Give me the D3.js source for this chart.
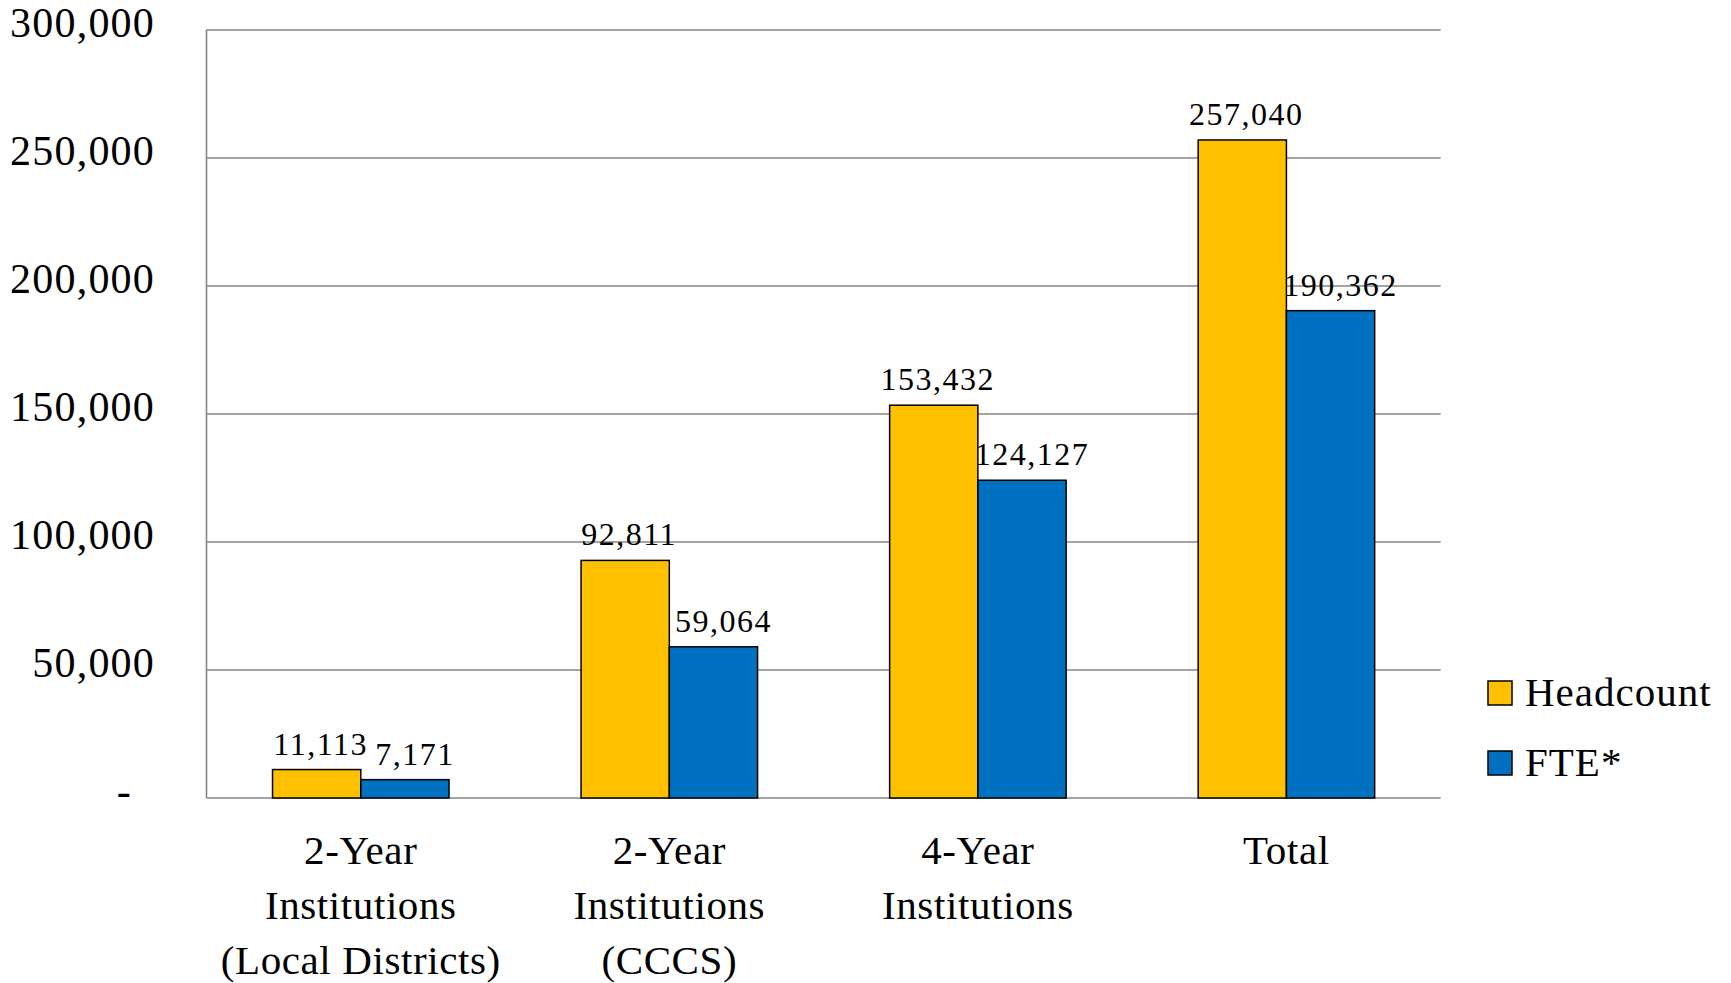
<!DOCTYPE html>
<meta charset="utf-8">
<head>
  <script src="https://cdn.jsdelivr.net/npm/d3@7"></script>
  <style>
    body { margin: 0; background: #fff; }
    text { font-family: "Liberation Serif", "Times New Roman", serif; fill: #000; }
  </style>
</head>
<body>

<script type="text/javascript">

// datos
var categorias = [
  ["2-Year", "Institutions", "(Local Districts)"],
  ["2-Year", "Institutions", "(CCCS)"],
  ["4-Year", "Institutions"],
  ["Total"]
];
var series = ["Headcount", "FTE*"];
var headcount = [11113, 92811, 153432, 257040];
var fte = [7171, 59064, 124127, 190362];
var ticks = [0, 50000, 100000, 150000, 200000, 250000, 300000];

var colores = ["#FFC000", "#0070C0"];

var w = 1731;
var h = 983;
// ojo: "top" es propiedad de window, por eso los nombres m*
var mIzq = 206.5, mDer = 1440.7, mSup = 30, mInf = 798;

var svg = d3.select("body").append("svg")
    .attr("width", w)
    .attr("height", h);

var y = d3.scaleLinear().domain([0, 300000]).range([mInf, mSup]);

var x = d3.scaleBand()
    .domain(d3.range(categorias.length))
    .range([mIzq, mDer])
    .paddingInner(0.428)
    .paddingOuter(0.214);

var x1 = d3.scaleBand().domain([0, 1]).range([0, x.bandwidth()]);

var fmt = d3.format(",");

// lineas de grilla
svg.selectAll("line.grid")
  .data(ticks)
  .enter()
  .append("line")
  .attr("class", "grid")
  .attr("x1", mIzq)
  .attr("x2", mDer)
  .attr("y1", function(d){ return y(d); })
  .attr("y2", function(d){ return y(d); })
  .attr("stroke", "#868686")
  .attr("stroke-width", 1.6);

svg.append("line")
  .attr("x1", mIzq).attr("x2", mIzq)
  .attr("y1", mSup).attr("y2", mInf)
  .attr("stroke", "#868686")
  .attr("stroke-width", 1.6);

// etiquetas eje y
svg.selectAll("text.ytick")
  .data(ticks)
  .enter()
  .append("text")
  .attr("class", "ytick")
  .attr("x", function(d){ return d === 0 ? 132 : 155; })
  .attr("y", function(d){ return y(d) - 3; })
  .attr("text-anchor", "end")
  .attr("dominant-baseline", "middle")
  .style("font-size", "42px")
  .style("letter-spacing", "1.2px")
  .text(function(d){ return d === 0 ? "-" : fmt(d); });

// barras
var datos = headcount.map(function(d, i){ return [d, fte[i]]; });

var grupos = svg.selectAll("g.cat")
  .data(datos)
  .enter()
  .append("g")
  .attr("class", "cat")
  .attr("transform", function(d, i){ return "translate(" + x(i) + ",0)"; });

grupos.selectAll("rect")
  .data(function(d){ return d; })
  .enter()
  .append("rect")
  .attr("x", function(d, j){ return x1(j); })
  .attr("y", function(d){ return y(d); })
  .attr("width", x1.bandwidth())
  .attr("height", function(d){ return mInf - y(d); })
  .attr("fill", function(d, j){ return colores[j]; })
  .attr("stroke", "#000")
  .attr("stroke-width", 1.5);

grupos.selectAll("text")
  .data(function(d){ return d; })
  .enter()
  .append("text")
  .attr("x", function(d, j){ return x1(j) + x1.bandwidth() / 2 + (j === 0 ? 4 : 10); })
  .attr("y", function(d){ return y(d) - 15; })
  .attr("text-anchor", "middle")
  .style("font-size", "32px")
  .style("letter-spacing", "1.5px")
  .text(function(d){ return fmt(d); });

// etiquetas de categoria
svg.selectAll("text.cat")
  .data(categorias)
  .enter()
  .append("text")
  .attr("class", "cat")
  .attr("x", function(d, i){ return x(i) + x.bandwidth() / 2; })
  .attr("y", 864)
  .attr("text-anchor", "middle")
  .style("font-size", "41px")
  .style("letter-spacing", "0.6px")
  .selectAll("tspan")
  .data(function(d){ return d; })
  .enter()
  .append("tspan")
  .attr("x", function(){ return this.parentNode.getAttribute("x"); })
  .attr("dy", function(d, k){ return k === 0 ? 0 : 55; })
  .text(function(d){ return d; });

// leyenda
var ley = svg.selectAll("g.ley")
  .data(series)
  .enter()
  .append("g")
  .attr("class", "ley")
  .attr("transform", function(d, i){ return "translate(1488," + (681 + i * 70) + ")"; });

ley.append("rect")
  .attr("width", 24)
  .attr("height", 24)
  .attr("fill", function(d, i){ return colores[i]; })
  .attr("stroke", "#000")
  .attr("stroke-width", 1.5);

ley.append("text")
  .attr("x", 37)
  .attr("y", 25)
  .style("font-size", "41px")
  .style("letter-spacing", "1px")
  .text(function(d){ return d; });

</script>

</body>
